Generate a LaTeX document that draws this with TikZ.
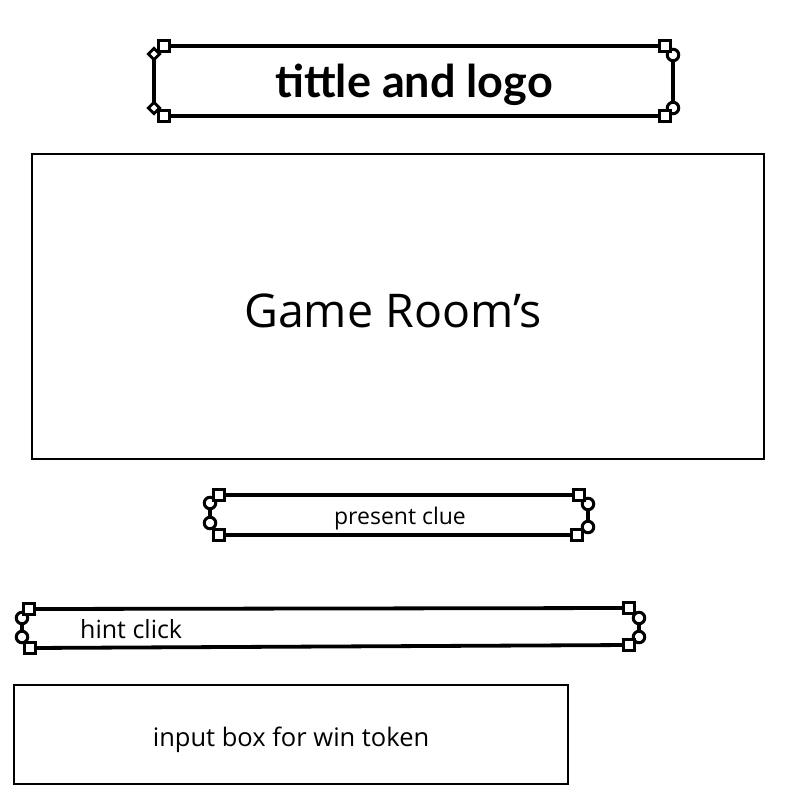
\documentclass[tikz,border=0pt]{standalone}
\usepackage{fontspec}
\setmainfont{Open Sans}
\newfontfamily\titlefont{Lato}
\usetikzlibrary{shapes.geometric}
\begin{document}
\begin{tikzpicture}[x=1pt,y=-1pt,
  sqmark/.style={draw, fill=white, line width=3pt, minimum size=11.5pt, inner sep=0pt, rectangle},
  cmark/.style={draw, fill=white, line width=3pt, minimum size=11.5pt, inner sep=0pt, circle},
  dmark/.style={draw, fill=white, line width=2.8pt, minimum size=8pt, inner sep=0pt, rectangle, rotate=45},
  bar/.style={line width=3.8pt},
  panel/.style={draw, line width=1.5pt, inner sep=0pt},
  label/.style={inner sep=0pt, font=#1},
]
\useasboundingbox (0,0) rectangle (800,800);

% title bar
\draw[bar] (164,46) coordinate (t-tl) -- (665,46) coordinate (t-tr);
\draw[bar] (164,116) coordinate (t-bl) -- (665,116) coordinate (t-br);
\draw[bar] (154,54) coordinate (t-lt) -- (154,108) coordinate (t-lb);
\draw[bar] (673,55) coordinate (t-rt) -- (673,108) coordinate (t-rb);
\node[dmark] (t-d1) at (t-lt) {};
\node[dmark] (t-d2) at (t-lb) {};
\node[sqmark] (t-s1) at (t-tl) {};
\node[sqmark] (t-s3) at (t-bl) {};
\node[cmark] (t-c1) at (t-rt) {};
\node[cmark] (t-c2) at (t-rb) {};
\node[sqmark] (t-s2) at (t-tr) {};
\node[sqmark] (t-s4) at (t-br) {};
\node[label=\titlefont\bfseries\fontsize{45}{48}\selectfont] (title) at (414,85) {tittle and logo};

% room panel
\node[panel, minimum width=732pt, minimum height=305pt] (room) at (398,306.5) {};
\node[label=\fontsize{46.5}{50}\selectfont] (roomtext) at (393,311) {Game Room’s};

% clue bar
\draw[bar] (219,495) coordinate (c-tl) -- (579,495) coordinate (c-tr);
\draw[bar] (219,535) coordinate (c-bl) -- (577,535) coordinate (c-br);
\draw[bar] (210,503) coordinate (c-lt) -- (210,523) coordinate (c-lb);
\draw[bar] (588,504) coordinate (c-rt) -- (588,527) coordinate (c-rb);
\node[cmark] (c-c1) at (c-lt) {};
\node[cmark] (c-c2) at (c-lb) {};
\node[sqmark] (c-s1) at (c-tl) {};
\node[sqmark] (c-s3) at (c-bl) {};
\node[cmark] (c-c3) at (c-rt) {};
\node[cmark] (c-c4) at (c-rb) {};
\node[sqmark] (c-s2) at (c-tr) {};
\node[sqmark] (c-s4) at (c-br) {};
\node[label=\fontsize{23}{26}\selectfont] (clue) at (400,519) {present clue};

% hint bar
\draw[bar] (29,609) coordinate (h-tl) -- (629,608) coordinate (h-tr);
\draw[bar] (30,648) coordinate (h-bl) -- (629,645) coordinate (h-br);
\draw[bar] (22,618) coordinate (h-lt) -- (22,637) coordinate (h-lb);
\draw[bar] (639,618) coordinate (h-rt) -- (639,637) coordinate (h-rb);
\node[cmark] (h-c1) at (h-lt) {};
\node[cmark] (h-c2) at (h-lb) {};
\node[sqmark] (h-s1) at (h-tl) {};
\node[sqmark] (h-s3) at (h-bl) {};
\node[cmark] (h-c3) at (h-rt) {};
\node[cmark] (h-c4) at (h-rb) {};
\node[sqmark] (h-s2) at (h-tr) {};
\node[sqmark] (h-s4) at (h-br) {};
\node[label=\fontsize{25}{28}\selectfont, anchor=west] (hint) at (80,629) {hint click};

% token input panel
\node[panel, minimum width=554pt, minimum height=99pt] (input) at (291,734.5) {};
\node[label=\fontsize{25.5}{28}\selectfont] (inputtext) at (291,740) {input box for win token};
\end{tikzpicture}
\end{document}
